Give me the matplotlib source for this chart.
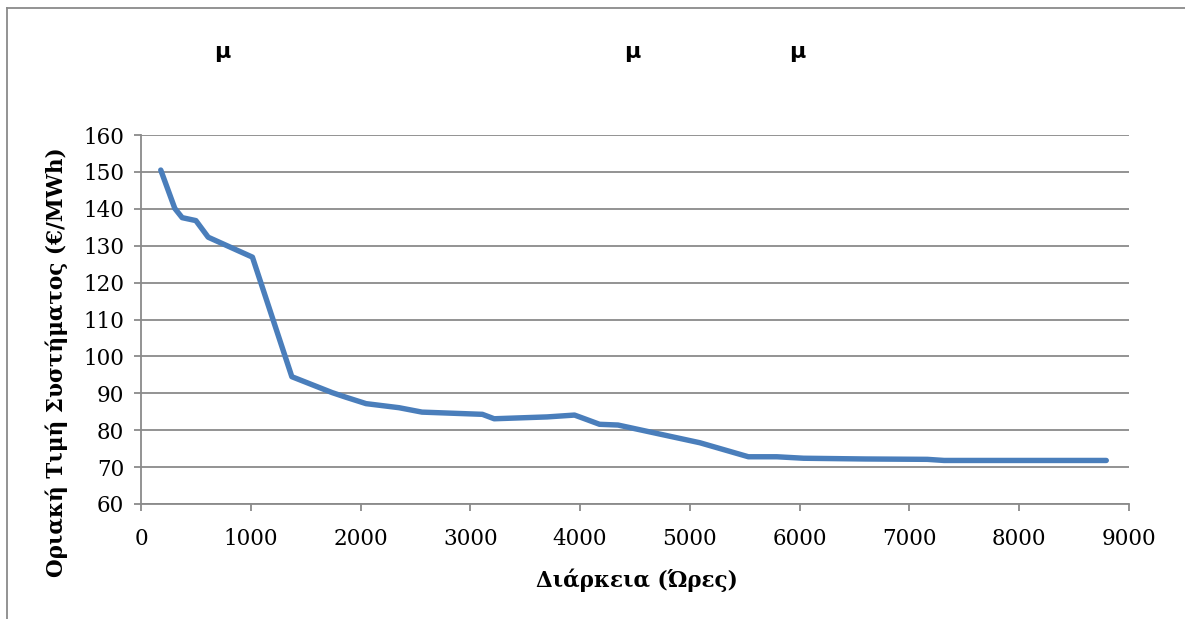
import matplotlib
matplotlib.use('Agg')
import matplotlib.pyplot as plt
from matplotlib.lines import Line2D

# duration curve of the system marginal price
hours = [180, 308, 375, 500, 612, 1015, 1374, 1740, 1860, 2050, 2350, 2560,
         3110, 3217, 3700, 3949, 4050, 4177, 4345, 5091, 5533, 5792, 6036,
         6600, 7163, 7316, 8000, 8793]
price = [150.5, 140.1, 137.6, 136.8, 132.3, 126.9, 94.5, 90.2, 89.0, 87.2, 86.1, 84.9,
         84.3, 83.1, 83.6, 84.1, 83.0, 81.6, 81.4, 76.6, 72.8, 72.8, 72.4,
         72.2, 72.1, 71.8, 71.8, 71.8]

x_ticks = list(range(0, 9001, 1000))
y_ticks = list(range(60, 161, 10))
title_marks = ['μ', 'μ', 'μ']
title_x = [222, 632, 797]

W, H = 1185, 619
L, R, T, B = 141, 1129, 135, 504
fig = plt.figure(figsize=(W / 100, H / 100), dpi=100)
ax = fig.add_axes([L / W, 1 - B / H, (R - L) / W, (B - T) / H])

ax.plot(hours, price, color='#4A7EBB', lw=3.9, solid_capstyle='round', solid_joinstyle='round')

ax.set_xlim(0, 9000)
ax.set_ylim(60, 160)
ax.set_xticks(x_ticks)
ax.set_yticks(y_ticks)
ax.grid(axis='y', color='#8a8a8a', lw=1.3)
ax.set_axisbelow(True)
for s in ['top', 'right']:
    ax.spines[s].set_visible(False)
for s in ['left', 'bottom']:
    ax.spines[s].set_color('#8a8a8a')
    ax.spines[s].set_linewidth(1.3)
ax.tick_params(colors='#8a8a8a', length=5, width=1.3, labelcolor='black', labelsize=15.5)
ax.tick_params(axis='x', pad=12)
ax.tick_params(axis='y', pad=7)
for lab in ax.get_xticklabels() + ax.get_yticklabels():
    lab.set_family('DejaVu Serif')

ax.set_xlabel('Διάρκεια (Ώρες)', family='DejaVu Serif', fontweight='bold', fontsize=15.5)
ax.set_ylabel('Οριακή Τιμή Συστήματος (€/MWh)', family='DejaVu Serif', fontweight='bold', fontsize=15.5)
ax.xaxis.label.set_verticalalignment('center')
ax.yaxis.label.set_verticalalignment('center')
ax.xaxis.set_label_coords((637 - L) / (R - L), (B - 580) / (B - T))
ax.yaxis.set_label_coords((57 - L) / (R - L), (B - 362) / (B - T))

for m, x in zip(title_marks, title_x):
    fig.text(x / W, 1 - 52 / H, m, ha='center', va='center', fontsize=16, fontweight='bold',
             family='DejaVu Sans')

# chart-area border, cropped at the right and bottom
bc = '#8a8a8a'
fig.add_artist(Line2D([7 / W, 1], [1 - 8 / H, 1 - 8 / H], color=bc, lw=1.3))
fig.add_artist(Line2D([7 / W, 7 / W], [1 - 8 / H, 0], color=bc, lw=1.3))

fig.savefig('out.png', dpi=100)
